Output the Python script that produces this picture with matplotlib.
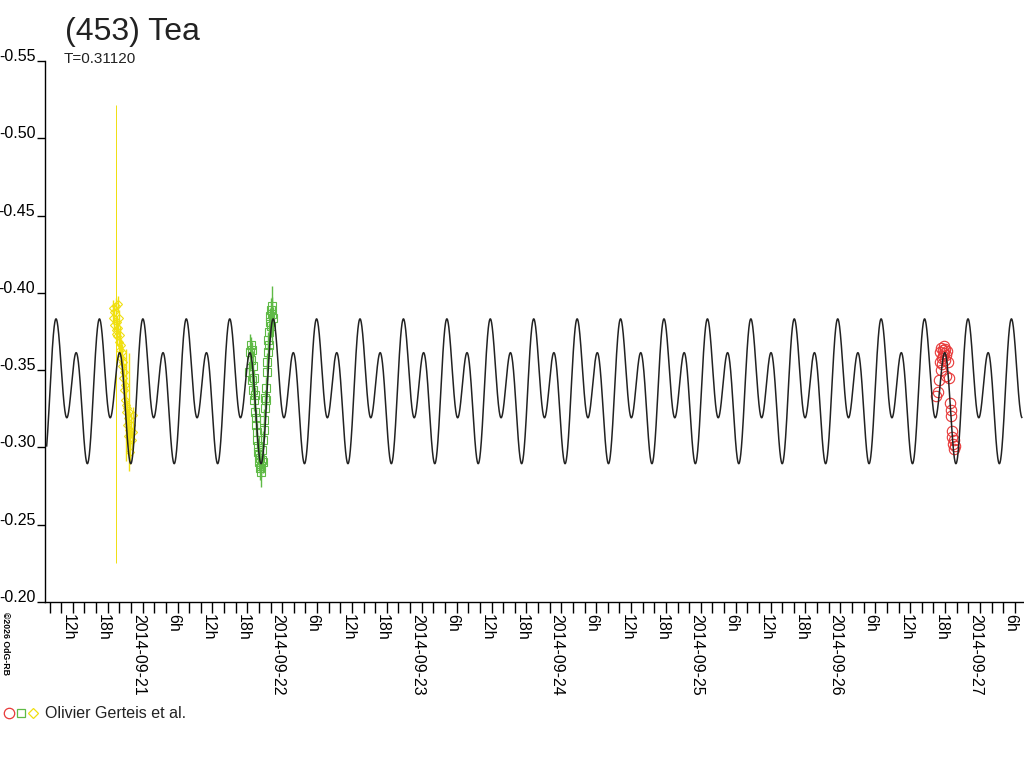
import numpy as np
import pandas as pd
import matplotlib
matplotlib.use("Agg")
import matplotlib.pyplot as plt
import matplotlib.dates as mdates
from matplotlib.ticker import FuncFormatter

plt.rcParams['font.family'] = ['Liberation Sans', 'DejaVu Sans']

# times are hours after 2014-09-20 00:00 UT, values are relative magnitudes
base = pd.Timestamp("2014-09-20 00:00")

# session 1 (yellow diamonds)
yel_h = [20.904, 20.990, 21.076, 21.162, 21.369, 21.472, 21.506, 21.592, 21.678, 21.764,
         21.850, 21.936, 22.022, 22.108, 22.194, 22.280, 22.366, 22.452, 22.538, 22.624,
         22.710, 22.796, 22.882, 22.968, 23.054, 23.140, 23.226, 23.312, 23.398, 23.484,
         23.570, 23.656, 23.742, 23.828, 23.914, 24.000, 24.172, 24.344, 24.430]
yel_mag = [-0.3837, -0.3902, -0.3792, -0.3876, -0.3734, -0.3760, -0.3915, -0.3811, -0.3721, -0.3928,
           -0.3773, -0.3682, -0.3837, -0.3630, -0.3727, -0.3578, -0.3663, -0.3527, -0.3617, -0.3449,
           -0.3553, -0.3371, -0.3488, -0.3307, -0.3404, -0.3229, -0.3274, -0.3145, -0.3255, -0.3074,
           -0.3190, -0.3229, -0.3113, -0.2970, -0.3061, -0.3145, -0.3048, -0.3210, -0.3100]
yel_err = [0.004, 0.005, 0.004, 0.006, 0.148, 0.110, 0.005, 0.004, 0.006, 0.005,
           0.004, 0.006, 0.005, 0.004, 0.006, 0.005, 0.004, 0.006, 0.005, 0.006,
           0.004, 0.006, 0.005, 0.006, 0.004, 0.007, 0.036, 0.006, 0.005, 0.007,
           0.006, 0.038, 0.006, 0.008, 0.006, 0.007, 0.006, 0.005, 0.007]

# session 2 (green squares)
grn_h = [44.294, 44.466, 44.638, 44.724, 44.810, 44.896, 44.982, 45.068, 45.154, 45.240,
         45.326, 45.412, 45.498, 45.584, 45.669, 45.755, 45.841, 45.927, 46.013, 46.099,
         46.185, 46.271, 46.357, 46.443, 46.529, 46.615, 46.701, 46.787, 46.873, 46.959,
         47.045, 47.131, 47.217, 47.303, 47.389, 47.475, 47.561, 47.647, 47.733, 47.819,
         47.905, 47.991, 48.077, 48.163, 48.249, 48.335, 48.421]
grn_mag = [-0.3488, -0.3617, -0.3663, -0.3565, -0.3436, -0.3630, -0.3527, -0.3371, -0.3449, -0.3307,
           -0.3229, -0.3339, -0.3145, -0.3190, -0.3048, -0.3100, -0.2970, -0.3009, -0.2906, -0.2951,
           -0.2867, -0.2931, -0.2880, -0.2841, -0.2918, -0.2983, -0.2906, -0.3048, -0.3113, -0.3177,
           -0.3255, -0.3320, -0.3384, -0.3307, -0.3488, -0.3553, -0.3617, -0.3695, -0.3747, -0.3663,
           -0.3811, -0.3850, -0.3785, -0.3889, -0.3863, -0.3915, -0.3837]
grn_err = [0.006, 0.012, 0.005, 0.006, 0.007, 0.005, 0.010, 0.006, 0.005, 0.007,
           0.006, 0.005, 0.007, 0.006, 0.005, 0.006, 0.007, 0.005, 0.006, 0.007,
           0.008, 0.006, 0.007, 0.010, 0.006, 0.005, 0.007, 0.006, 0.005, 0.007,
           0.006, 0.005, 0.007, 0.006, 0.005, 0.006, 0.007, 0.005, 0.006, 0.007,
           0.006, 0.005, 0.007, 0.008, 0.018, 0.006, 0.007]

# session 3 (red circles)
red_h = [162.530, 162.788, 163.046, 163.132, 163.218, 163.304, 163.390, 163.476, 163.562, 163.648,
         163.734, 163.820, 163.906, 163.992, 164.078, 164.164, 164.250, 164.336, 164.508, 164.680,
         164.938, 165.024, 165.110, 165.196, 165.282, 165.368, 165.540, 165.626, 165.712]
red_mag = [-0.3333, -0.3358, -0.3436, -0.3553, -0.3617, -0.3500, -0.3643, -0.3578, -0.3540, -0.3630,
           -0.3591, -0.3656, -0.3611, -0.3565, -0.3637, -0.3462, -0.3598, -0.3624, -0.3553, -0.3449,
           -0.3287, -0.3242, -0.3203, -0.3106, -0.3067, -0.3022, -0.3048, -0.2990, -0.3009]

# Fourier model of the light curve
period_h = 0.31120 * 24
epoch_h = 10.981
fourier_c0 = -0.3381
fourier_cos = [-0.0110, -0.0333]
fourier_sin = [-0.0149, 0.0]
model_start_h, model_end_h = 9.5, 177.2


def to_num(hours):
    return mdates.date2num((base + pd.to_timedelta(np.asarray(hours), unit="h")).to_pydatetime())


def model(hours):
    ph = 2 * np.pi * (np.asarray(hours) - epoch_h) / period_h
    m = np.full_like(ph, fourier_c0)
    for k, (a, b) in enumerate(zip(fourier_cos, fourier_sin), start=1):
        m += a * np.cos(k * ph) + b * np.sin(k * ph)
    return m


fig = plt.figure(figsize=(10.24, 7.68), dpi=100)
ax = fig.add_axes([45 / 1024, 1 - 602 / 768, 979 / 1024, 541 / 768])

col_yel = "#f0df10"
col_grn = "#5fba46"
col_red = "#e83838"

# error bars; very large ones drawn thinner
yel_err = np.asarray(yel_err)
big = yel_err > 0.1
yx = to_num(yel_h)
yv = np.asarray(yel_mag)
ax.errorbar(yx[~big], yv[~big], yerr=yel_err[~big], fmt="none", ecolor=col_yel, elinewidth=1, zorder=2)
ax.errorbar(yx[big], yv[big], yerr=yel_err[big], fmt="none", ecolor=col_yel, elinewidth=0.7, zorder=2)
ax.plot(yx, yv, "D", ms=4.5, mfc="none", mec=col_yel, mew=0.8, zorder=2)
ax.errorbar(to_num(grn_h), grn_mag, yerr=grn_err, fmt="s", ms=6, mfc="none", mec=col_grn,
            ecolor=col_grn, elinewidth=1, mew=0.8, color=col_grn, zorder=2)
ax.plot(to_num(red_h), red_mag, "o", ms=7.5, mfc="none", mec=col_red, mew=0.8, zorder=2)

t_model = np.linspace(model_start_h, model_end_h, 6000)
ax.plot(to_num(t_model), model(t_model), color="#222222", lw=1.1, zorder=3)

ax.set_xlim(to_num([9.21, 177.58]))
ax.set_ylim(-0.20, -0.55)

yt = [-0.55, -0.50, -0.45, -0.40, -0.35, -0.30, -0.25, -0.20]
ax.set_yticks(yt)
ax.set_yticklabels([f"{v:.2f}" for v in yt], fontsize=11.5)
for lbl in ax.get_yticklabels():
    lbl.set_verticalalignment("baseline")
ax.tick_params(axis="y", length=6, width=1, pad=1, colors="black")


def fmt_tick(x, pos):
    d = mdates.num2date(x)
    if d.hour == 0:
        return d.strftime("%Y-%m-%d")
    return f"{d.hour}h"


ax.xaxis.set_major_locator(mdates.HourLocator(byhour=range(0, 24, 6)))
ax.xaxis.set_minor_locator(mdates.HourLocator(byhour=range(0, 24, 2)))
ax.xaxis.set_major_formatter(FuncFormatter(fmt_tick))
ax.tick_params(axis="x", which="both", length=8, width=1, pad=1)
for lbl in ax.get_xticklabels():
    lbl.set_rotation(-90)
    lbl.set_horizontalalignment("left")
    lbl.set_verticalalignment("top")
    lbl.set_fontsize(11.5)

for s in ["top", "right"]:
    ax.spines[s].set_visible(False)
for s in ["left", "bottom"]:
    ax.spines[s].set_linewidth(1)
    ax.spines[s].set_color("black")

fig.text(65 / 1024, 1 - 40 / 768, "(453) Tea", fontsize=23, va="baseline", ha="left", color="#222222")
fig.text(64 / 1024, 1 - 63 / 768, "T=0.31120", fontsize=11, va="baseline", ha="left", color="#222222")
fig.text(0.001, 1 - 612 / 768, "\u00a92026 OdG-RB", fontsize=6.3, fontweight="bold",
         rotation=-90, ha="left", va="top")

# legend row at the bottom
ly = 1 - 713 / 768
ax.plot([9 / 1024], [ly], "o", ms=7.5, mfc="none", mec=col_red, mew=0.9,
        transform=fig.transFigure, clip_on=False)
ax.plot([21 / 1024], [ly], "s", ms=5.5, mfc="none", mec=col_grn, mew=0.9,
        transform=fig.transFigure, clip_on=False)
ax.plot([33 / 1024], [ly], "D", ms=5, mfc="none", mec=col_yel, mew=0.9,
        transform=fig.transFigure, clip_on=False)
fig.text(45 / 1024, ly, "Olivier Gerteis et al.", fontsize=11.5, va="center", ha="left", color="#222222")

fig.savefig("out.png", dpi=100)
